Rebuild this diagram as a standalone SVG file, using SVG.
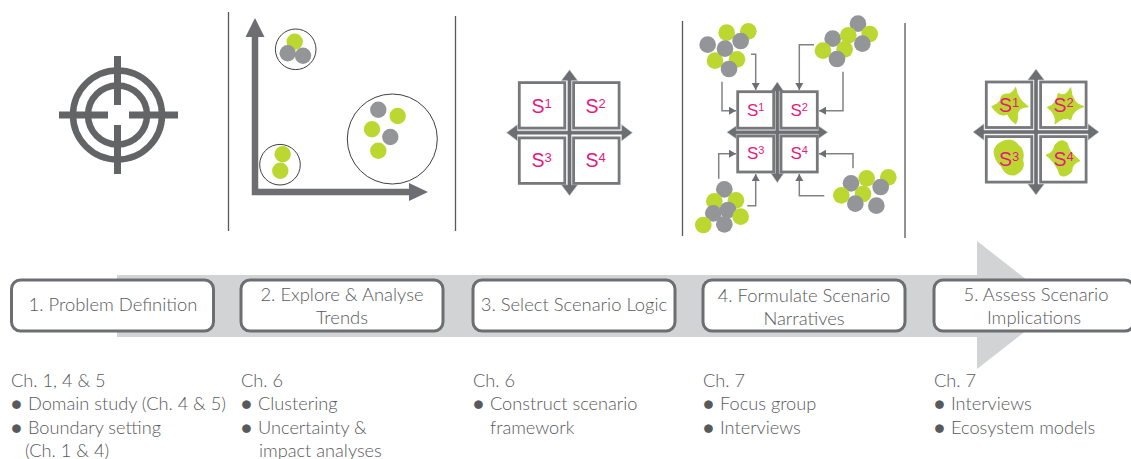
<svg xmlns="http://www.w3.org/2000/svg" xmlns:xlink="http://www.w3.org/1999/xlink" width="1131" height="459" viewBox="0 0 1131 459">
<style>
.div{stroke:#58595b;stroke-width:1.3;fill:none}
.g{fill:#bdd731}
.y{fill:#939598}
.ring{fill:none;stroke:#414042;stroke-width:1}
.sbox{fill:#fff;stroke:#77787b;stroke-width:2.8}
.cross{fill:#6d6e71;stroke:#d8d9da;stroke-width:.6}
.s{font-family:"Liberation Sans",Arial,sans-serif;font-size:19.5px;fill:#e6197e}
.s4{font-size:17px}
.sup{font-size:13px}
.s4 .sup{font-size:11px}
.thin{fill:none;stroke:#808285;stroke-width:1.5;marker-end:url(#ah)}
.step{fill:#fff;stroke:#6d6e71;stroke-width:3}
.lbl{font-family:Lato,"Open Sans",sans-serif;font-weight:300;font-size:18.4px;fill:#58595b;text-anchor:middle}
.det{font-family:Lato,"Open Sans",sans-serif;font-weight:300;font-size:18.2px;fill:#58595b}
.blob{fill:#bdd731;stroke:#bdd731;stroke-width:3;stroke-linejoin:round}
</style>
<defs>
<marker id="ah" markerUnits="userSpaceOnUse" markerWidth="9" markerHeight="9" refX="7" refY="4" orient="auto"><path d="M0,0L7,4L0,8Z" fill="#6d6e71"/></marker>
<g id="cross" class="cross"><path d="M-2,-52H-8.3L0,-63L8.3,-52H2V-2H52V-8.3L63,0L52,8.3V2H2V52H8.3L0,63L-8.3,52H-2V2H-52V8.3L-63,0L-52,-8.3V-2H-2Z"/></g>
<g id="cross4" class="cross"><path d="M-2,-41H-6.5L0,-50.5L6.5,-41H2V-2H41V-6.5L50.5,0L41,6.5V2H2V41H6.5L0,50.5L-6.5,41H-2V2H-41V6.5L-50.5,0L-41,-6.5V-2H-2Z"/></g>
</defs>
<rect width="1131" height="459" fill="#fff"/>
<path d="M117,275H977V241L1059,305L977,369V337H117Z" fill="#d1d3d4"/>
<g id="dividers" class="div"><path d="M228.500,12V231M455.500,16V231M682.500,21V236M905,23V238"/></g>

<g id="target" fill="none" stroke="#636466">
<circle cx="117.500" cy="115" r="44.500" stroke-width="6.500"/>
<circle cx="117.500" cy="115" r="29.500" stroke-width="6.500"/>
<path stroke-width="7" d="M59,115H108M129,115H178M117.500,56V105M117.500,125V174"/>
</g>

<g id="trends">
<path d="M255,37V192H409" fill="none" stroke="#6d6e71" stroke-width="6.500"/>
<path d="M255,18L264.500,37H245.500ZM428,192L409,183V201Z" fill="#6d6e71"/>
<circle class="ring" cx="295.700" cy="49.300" r="20.300"/>
<circle class="g" cx="294.700" cy="41.700" r="8.200"/><circle class="y" cx="287.700" cy="53.300" r="8.200"/><circle class="y" cx="303" cy="55.700" r="8.200"/>
<circle class="ring" cx="280" cy="164.700" r="20.300"/>
<circle class="g" cx="282.700" cy="154.300" r="8.200"/><circle class="g" cx="280.300" cy="170.700" r="8.200"/>
<circle class="ring" cx="392.300" cy="139" r="45"/>
<circle class="y" cx="378.300" cy="109.700" r="8.200"/><circle class="g" cx="397.700" cy="116" r="8.200"/><circle class="g" cx="372" cy="129.300" r="8.200"/><circle class="y" cx="390.300" cy="137" r="8.200"/><circle class="g" cx="378.300" cy="150.700" r="8.200"/>
</g>

<g id="logic">
<use xlink:href="#cross" href="#cross" x="569.500" y="132.700"/>
<rect class="sbox" x="519.300" y="82.600" width="45.500" height="45.500"/><rect class="sbox" x="573.600" y="82.600" width="45.500" height="45.500"/>
<rect class="sbox" x="519.300" y="137.900" width="45.500" height="45.500"/><rect class="sbox" x="573.600" y="137.900" width="45.500" height="45.500"/>
<text class="s" x="531.500" y="113">S<tspan class="sup" dy="-5.500">1</tspan></text>
<text class="s" x="585.500" y="113">S<tspan class="sup" dy="-5.500">2</tspan></text>
<text class="s" x="531.500" y="167.300">S<tspan class="sup" dy="-5.500">3</tspan></text>
<text class="s" x="585.500" y="167.300">S<tspan class="sup" dy="-5.500">4</tspan></text>
</g>

<g id="narratives">
<use xlink:href="#cross4" href="#cross4" x="777.300" y="132.300"/>
<rect class="sbox" x="737.700" y="91.700" width="36" height="36.500"/><rect class="sbox" x="781" y="91.700" width="36.300" height="36.500"/>
<rect class="sbox" x="737.700" y="136" width="36" height="36"/><rect class="sbox" x="781" y="136" width="36.300" height="36"/>
<text class="s s4" x="747" y="116.300">S<tspan class="sup" dy="-5">1</tspan></text>
<text class="s s4" x="790.500" y="116.300">S<tspan class="sup" dy="-5">2</tspan></text>
<text class="s s4" x="747" y="158.800">S<tspan class="sup" dy="-5">3</tspan></text>
<text class="s s4" x="790.500" y="158.800">S<tspan class="sup" dy="-5">4</tspan></text>
</g>
<g id="cluster-1" transform="translate(490 0) scale(.33333)">
<circle class="g" cx="710" cy="98" r="25"/><circle class="g" cx="775" cy="94" r="25"/><circle class="y" cx="653" cy="134" r="25"/><circle class="y" cx="752" cy="123" r="25"/><circle class="g" cx="675" cy="182" r="25"/><circle class="g" cx="741" cy="178" r="25"/><circle class="y" cx="705" cy="146" r="25"/><circle class="y" cx="717" cy="207" r="25"/>
</g>
<g id="cluster-2" transform="translate(490 0) scale(.33333)">
<circle class="y" cx="1104" cy="71" r="25"/><circle class="g" cx="1139" cy="102" r="25"/><circle class="y" cx="1028" cy="116" r="25"/><circle class="g" cx="1075" cy="106" r="25"/><circle class="y" cx="1117" cy="131" r="25"/><circle class="g" cx="1064" cy="148" r="25"/><circle class="g" cx="999" cy="152" r="25"/><circle class="y" cx="1041" cy="177" r="25"/>
</g>
<g id="cluster-3" transform="translate(490 0) scale(.33333)">
<circle class="g" cx="1130" cy="535" r="25"/><circle class="g" cx="1195" cy="532" r="25"/><circle class="y" cx="1083" cy="550" r="25"/><circle class="y" cx="1172" cy="561" r="25"/><circle class="g" cx="1054" cy="586" r="25"/><circle class="g" cx="1119" cy="582" r="25"/><circle class="y" cx="1096" cy="611" r="25"/><circle class="y" cx="1159" cy="617" r="25"/>
</g>
<g id="cluster-4" transform="translate(490 0) scale(.33333)">
<circle class="y" cx="703" cy="568" r="25"/><circle class="g" cx="673" cy="604" r="25"/><circle class="g" cx="738" cy="601" r="25"/><circle class="y" cx="714" cy="630" r="25"/><circle class="y" cx="670" cy="640" r="25"/><circle class="g" cx="752" cy="650" r="25"/><circle class="g" cx="640" cy="675" r="25"/><circle class="y" cx="703" cy="673" r="25"/>
</g>
<g id="connectors">
<path class="thin" d="M751,54.300H755.700V90"/>
<path class="thin" d="M722,81.700V110.700H736"/>
<path class="thin" d="M814,44.700H799.300V90"/>
<path class="thin" d="M843,71.700V110.700H819"/>
<path class="thin" d="M718.700,178.700V153.700H736"/>
<path class="thin" d="M747.300,205.700H755.700V174"/>
<path class="thin" d="M824.300,195.700H799.300V174"/>
<path class="thin" d="M853,168.300V153.700H819"/>
</g>

<g id="implications">
<use xlink:href="#cross" href="#cross" x="1036" y="132"/>
<rect class="sbox" x="986.300" y="82" width="45.500" height="45.500"/><rect class="sbox" x="1040.600" y="82" width="45.500" height="45.500"/>
<rect class="sbox" x="986.300" y="136.600" width="45.500" height="45.500"/><rect class="sbox" x="1040.600" y="136.600" width="45.500" height="45.500"/>
<g transform="translate(950 50) scale(.33333)">
<path class="blob" d="M125,170Q140,165 152,150Q150,130 178,132Q192,125 197,112Q200,145 235,170Q205,172 203,190Q205,210 197,222Q180,210 172,192Q150,205 125,170Z"/>
<path class="blob" d="M292,172Q318,165 325,130Q345,145 362,113Q365,160 402,170Q368,178 362,210Q345,195 315,222Q322,195 292,172Z"/>
<path class="blob" d="M132,305Q135,280 165,272Q190,265 205,285Q225,300 218,330Q228,360 195,375Q165,378 155,350Q135,335 132,305Z"/>
<path class="blob" d="M288,315Q310,310 315,285Q335,262 352,280Q355,305 390,332Q365,340 365,365Q345,385 330,375Q320,340 288,315Z"/>
</g>
<text class="s" x="999" y="112">S<tspan class="sup" dy="-5.500">1</tspan></text>
<text class="s" x="1053.500" y="112">S<tspan class="sup" dy="-5.500">2</tspan></text>
<text class="s" x="999" y="166">S<tspan class="sup" dy="-5.500">3</tspan></text>
<text class="s" x="1053.500" y="166">S<tspan class="sup" dy="-5.500">4</tspan></text>
</g>

<g id="step-1"><rect class="step" x="11.500" y="280" width="202" height="51" rx="9"/><text class="lbl" x="113" y="311">1. Problem Definition</text></g>
<g id="step-2"><rect class="step" x="241" y="280" width="202" height="51" rx="9"/><text class="lbl" x="342" y="301">2. Explore &amp; Analyse</text><text class="lbl" x="342" y="324">Trends</text></g>
<g id="step-3"><rect class="step" x="473" y="280" width="202" height="51" rx="9"/><text class="lbl" x="574" y="311">3. Select Scenario Logic</text></g>
<g id="step-4"><rect class="step" x="703" y="280" width="202" height="51" rx="9"/><text class="lbl" x="804" y="302">4. Formulate Scenario</text><text class="lbl" x="804" y="325">Narratives</text></g>
<g id="step-5"><rect class="step" x="934" y="280" width="200" height="51" rx="9"/><text class="lbl" x="1036" y="301">5. Assess Scenario</text><text class="lbl" x="1034" y="324">Implications</text></g>

<g id="details" class="det">
<text x="11" y="387">Ch. 1, 4 &amp; 5</text>
<text x="11" y="410">●<tspan x="28">Domain study (Ch. 4 &amp; 5)</tspan></text>
<text x="11" y="434">●<tspan x="28">Boundary setting</tspan></text>
<text x="25" y="457">(Ch. 1 &amp; 4)</text>
<text x="241" y="387">Ch. 6</text>
<text x="241" y="410">●<tspan x="258">Clustering</tspan></text>
<text x="241" y="434">●<tspan x="258">Uncertainty &amp;</tspan></text>
<text x="259" y="457">impact analyses</text>
<text x="473" y="387">Ch. 6</text>
<text x="473" y="410">●<tspan x="490">Construct scenario</tspan></text>
<text x="490" y="434">framework</text>
<text x="703" y="387">Ch. 7</text>
<text x="703" y="410">●<tspan x="720">Focus group</tspan></text>
<text x="703" y="434">●<tspan x="720">Interviews</tspan></text>
<text x="934" y="387">Ch. 7</text>
<text x="934" y="410">●<tspan x="951">Interviews</tspan></text>
<text x="934" y="434">●<tspan x="951">Ecosystem models</tspan></text>
</g>
</svg>
